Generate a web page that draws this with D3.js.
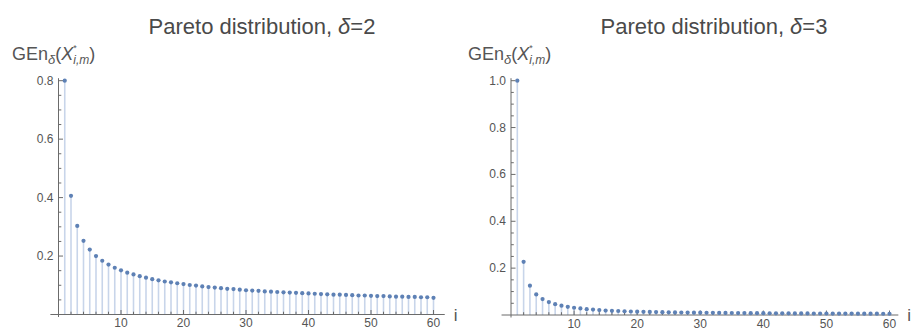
<!DOCTYPE html>
<html>
<head>
<meta charset="utf-8">
<script src="https://cdnjs.cloudflare.com/ajax/libs/d3/7.8.5/d3.min.js"></script>
<style>
  html, body { margin: 0; padding: 0; background: #fff; }
  svg { display: block; font-family: "Liberation Sans", Arial, sans-serif; }
</style>
</head>
<body>
<svg id="chart" width="911" height="329"></svg>
<script>
// i = 1..60
const idx = d3.range(1, 61);

// GEn for Pareto, delta = 2
const genDelta2 = [
  0.800, 0.406, 0.303, 0.252, 0.222, 0.200, 0.184, 0.171, 0.160, 0.151,
  0.143, 0.137, 0.131, 0.126, 0.121, 0.117, 0.113, 0.110, 0.107, 0.104,
  0.101, 0.099, 0.096, 0.094, 0.092, 0.090, 0.088, 0.087, 0.085, 0.083,
  0.082, 0.081, 0.079, 0.078, 0.077, 0.076, 0.075, 0.074, 0.073, 0.072,
  0.071, 0.070, 0.069, 0.068, 0.068, 0.067, 0.066, 0.065, 0.065, 0.064,
  0.063, 0.063, 0.062, 0.061, 0.061, 0.060, 0.060, 0.059, 0.059, 0.057
];

// GEn for Pareto, delta = 3
const genDelta3 = [
  1.000, 0.227, 0.125, 0.088, 0.068, 0.055, 0.046, 0.040, 0.035, 0.031,
  0.028, 0.025, 0.023, 0.021, 0.019, 0.018, 0.017, 0.016, 0.015, 0.014,
  0.0135, 0.013, 0.0125, 0.012, 0.0115, 0.011, 0.0107, 0.0104, 0.0101, 0.0098,
  0.0095, 0.0092, 0.0090, 0.0088, 0.0086, 0.0084, 0.0082, 0.0080, 0.0078, 0.0076,
  0.0074, 0.0072, 0.0071, 0.0070, 0.0068, 0.0067, 0.0066, 0.0065, 0.0064, 0.0063,
  0.0062, 0.0061, 0.0060, 0.0059, 0.0058, 0.0057, 0.0056, 0.0055, 0.0054, 0.0053
];

const xTicks = [10, 20, 30, 40, 50, 60];
const yTicks2 = [0.2, 0.4, 0.6, 0.8];
const yTicks3 = [0.2, 0.4, 0.6, 0.8, 1.0];

const POINT = "#5e81b5";
const STEM = "#c8d5ea";
const AXIS = "#6b6b6b";
const TEXT = "#555";

const svg = d3.select("#chart");

function panel(cfg) {
  const g = svg.append("g");
  const x = d3.scaleLinear([0, 60], cfg.xr);
  const y = d3.scaleLinear([0, cfg.yMax], cfg.yr);
  const x0 = x(0), y0 = y(0);

  // title
  const t = g.append("text").attr("x", cfg.titleX).attr("y", 34)
    .attr("text-anchor", "middle").attr("font-size", 22).attr("fill", "#4a4a4a");
  t.append("tspan").text("Pareto distribution, ");
  t.append("tspan").attr("font-style", "italic").text("δ");
  t.append("tspan").text("=" + cfg.delta);

  // y label: GEn_δ(X*_{i,m})
  const lab = g.append("text").attr("x", cfg.labX).attr("y", 60)
    .attr("font-size", 18).attr("fill", TEXT);
  lab.append("tspan").text("GEn");
  lab.append("tspan").attr("font-style", "italic").attr("font-size", 13).attr("dy", 4).text("δ");
  lab.append("tspan").attr("dy", -4).text("(");
  lab.append("tspan").attr("font-style", "italic").text("X");
  lab.append("tspan").attr("font-size", 9).attr("dy", -9).text("*");
  lab.append("tspan").attr("font-style", "italic").attr("font-size", 12).attr("dx", -3.5).attr("dy", 13).text("i,m");
  lab.append("tspan").attr("dy", -4).text(")");

  // stems
  g.append("g").selectAll("line").data(idx).join("line")
    .attr("x1", d => x(d)).attr("x2", d => x(d))
    .attr("y1", y0).attr("y2", (d, k) => y(cfg.values[k]))
    .attr("stroke", STEM).attr("stroke-width", 1.6);

  // axes lines
  g.append("line").attr("x1", x(cfg.xLo)).attr("x2", x(cfg.xHi))
    .attr("y1", y0).attr("y2", y0).attr("stroke", AXIS).attr("stroke-width", 1);
  g.append("line").attr("x1", x0).attr("x2", x0)
    .attr("y1", y0 + 2.5).attr("y2", y(cfg.yMax) - 2.5).attr("stroke", AXIS).attr("stroke-width", 1);

  // y ticks (inward), minor every 0.05
  const yMinor = d3.range(0.05, cfg.yMax + 1e-9, 0.05);
  g.append("g").selectAll("line").data(yMinor).join("line")
    .attr("x1", x0).attr("x2", d => x0 + (Math.abs(d / 0.2 - Math.round(d / 0.2)) < 1e-6 ? 4.5 : 2.8))
    .attr("y1", d => y(d)).attr("y2", d => y(d))
    .attr("stroke", AXIS).attr("stroke-width", 1);
  g.append("g").selectAll("text").data(cfg.yTicks).join("text")
    .attr("x", x0 - 5).attr("y", d => y(d) + 4)
    .attr("text-anchor", "end").attr("font-size", 12).attr("fill", TEXT)
    .text(d => d.toFixed(1));

  // x ticks (upward), minor every 2
  const xMinor = d3.range(2, 61, 2);
  g.append("g").selectAll("line").data(xMinor).join("line")
    .attr("x1", d => x(d)).attr("x2", d => x(d))
    .attr("y1", y0).attr("y2", d => y0 - (d % 10 === 0 ? 4.5 : 2.8))
    .attr("stroke", AXIS).attr("stroke-width", 1);
  g.append("g").selectAll("text").data(xTicks).join("text")
    .attr("x", d => x(d)).attr("y", y0 + 12.5)
    .attr("text-anchor", "middle").attr("font-size", 12).attr("fill", TEXT)
    .text(d => d);

  // points
  g.append("g").selectAll("circle").data(idx).join("circle")
    .attr("cx", d => x(d)).attr("cy", (d, k) => y(cfg.values[k]))
    .attr("r", 2.1).attr("fill", POINT);

  // axis label i
  g.append("text").attr("x", x(cfg.xHi) + 9).attr("y", y0 + 6)
    .attr("font-size", 17).attr("fill", TEXT).text("i");
}

panel({
  values: genDelta2, delta: 2, yMax: 0.8, yTicks: yTicks2,
  xr: [58.5, 433.5], yr: [314.5, 80.7], xLo: -1.3, xHi: 61.8,
  titleX: 262, labX: 12
});

panel({
  values: genDelta3, delta: 3, yMax: 1.0, yTicks: yTicks3,
  xr: [511, 889.5], yr: [315, 80.7], xLo: -1.5, xHi: 61.4,
  titleX: 714, labX: 468
});
</script>
</body>
</html>
